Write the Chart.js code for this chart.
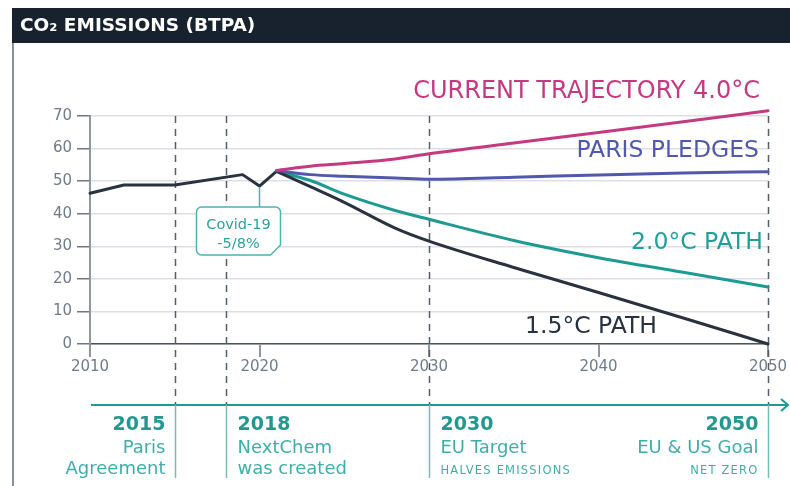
<!DOCTYPE html>
<html>
<head>
<meta charset="utf-8">
<script src="https://cdn.jsdelivr.net/npm/chart.js@4.4.1/dist/chart.umd.min.js"></script>
<style>
  html, body { margin: 0; padding: 0; background: #fff; }
  #wrap { width: 790px; height: 486px; }
</style>
</head>
<body>
<div id="wrap"><canvas id="co2Chart" width="790" height="486"></canvas></div>
<script>
// emissions, billion tonnes per annum
var pastYears = [2010, 2012, 2015, 2019, 2020, 2021];
var pastValues = [46.3, 48.8, 48.8, 52, 48.5, 53];

var pathYears = [2021, 2023, 2025, 2028, 2030, 2035, 2040, 2045, 2050];
var current40 = [53.3, 54.6, 55.4, 56.8, 58.4, 61.7, 64.9, 68.2, 71.6];
var parisPledges = [53.3, 52, 51.5, 51, 50.6, 51.2, 51.9, 52.5, 52.9];
var path20 = [53, 50.2, 46, 41, 38.3, 31.8, 26.5, 22, 17.5];
var path15 = [53, 48.3, 43.5, 35.6, 31.6, 23.5, 15.8, 8, 0];

var yTicks = [0, 10, 20, 30, 40, 50, 60, 70];
var xTicks = [2010, 2020, 2030, 2040, 2050];

var milestones = [
  { year: 2015, title: "2015", lines: ["Paris", "Agreement"], note: "", align: "right" },
  { year: 2018, title: "2018", lines: ["NextChem", "was created"], note: "", align: "left" },
  { year: 2030, title: "2030", lines: ["EU Target"], note: "HALVES EMISSIONS", align: "left" },
  { year: 2050, title: "2050", lines: ["EU & US Goal"], note: "NET ZERO", align: "right" }
];

var MAGENTA = "#c4397f";
var BLUE = "#5259ad";
var TEAL = "#1d9a92";
var DARK = "#29323e";
var FONT = "'DejaVu Sans', 'Liberation Sans', sans-serif";

function pts(xs, ys) {
  return xs.map(function (x, i) { return { x: x, y: ys[i] }; });
}

var decor = {
  id: "decor",
  beforeDraw: function (chart) {
    var c = chart.ctx;
    c.save();
    c.fillStyle = "#fff";
    c.fillRect(0, 0, chart.width, chart.height);
    // header bar
    c.fillStyle = "#17222e";
    c.fillRect(12, 8, chart.width - 12, 35);
    c.fillStyle = "#fff";
    c.font = "bold 18.5px " + FONT;
    c.textBaseline = "middle";
    c.textAlign = "left";
    c.fillText("CO₂ EMISSIONS (BTPA)", 20, 26);
    // frame line
    c.strokeStyle = "#8a9299";
    c.lineWidth = 2;
    c.beginPath();
    c.moveTo(13, 43);
    c.lineTo(13, chart.height);
    c.stroke();
    c.restore();
  },
  beforeDatasetsDraw: function (chart) {
    var c = chart.ctx, x = chart.scales.x, a = chart.chartArea;
    c.save();
    c.strokeStyle = "#555e68";
    c.lineWidth = 1.5;
    c.setLineDash([7, 6]);
    milestones.forEach(function (m) {
      var px = Math.round(x.getPixelForValue(m.year)) + 0.5;
      c.beginPath();
      c.moveTo(px, a.top);
      c.lineTo(px, 404);
      c.stroke();
    });
    c.restore();
  },
  afterDraw: function (chart) {
    var c = chart.ctx, x = chart.scales.x, y = chart.scales.y;
    c.save();
    // timeline arrow
    c.strokeStyle = TEAL;
    c.lineWidth = 2;
    c.beginPath();
    c.moveTo(91, 405);
    c.lineTo(788, 405);
    c.moveTo(781, 399);
    c.lineTo(788, 405);
    c.lineTo(781, 411);
    c.stroke();

    milestones.forEach(function (m) {
      var px = Math.round(x.getPixelForValue(m.year)) + 0.5;
      c.strokeStyle = "#7bbab6";
      c.lineWidth = 1.5;
      c.beginPath();
      c.moveTo(px, 405);
      c.lineTo(px, 478);
      c.stroke();

      var tx = m.align === "right" ? px - 10 : px + 11;
      c.textAlign = m.align;
      c.textBaseline = "middle";
      c.fillStyle = "#24988f";
      c.font = "bold 19px " + FONT;
      c.fillText(m.title, tx, 425);
      c.fillStyle = "#3eaeaa";
      c.font = "18px " + FONT;
      m.lines.forEach(function (t, i) {
        c.fillText(t, tx, 448 + i * 21);
      });
      if (m.note) {
        c.font = "11.5px " + FONT;
        c.letterSpacing = "1.2px";
        c.fillText(m.note, tx, 471);
        c.letterSpacing = "0px";
      }
    });

    // series labels
    var right = chart.chartArea.right;
    c.textBaseline = "middle";
    c.textAlign = "right";
    c.font = "24px " + FONT;
    c.fillStyle = MAGENTA;
    c.fillText("CURRENT TRAJECTORY 4.0°C", right - 8, 92);
    c.font = "23.5px " + FONT;
    c.fillStyle = BLUE;
    c.fillText("PARIS PLEDGES", right - 9, 151);
    c.fillStyle = "#21a09a";
    c.fillText("2.0°C PATH", right - 5, 243);
    c.fillStyle = DARK;
    c.fillText("1.5°C PATH", right - 111, 327);

    // covid callout
    var cx = x.getPixelForValue(2020), cy = y.getPixelForValue(48.5);
    var L = cx - 63, R = cx + 21, T = 207, B = 255, r = 5, cut = 10;
    c.strokeStyle = "#4fb3ad";
    c.lineWidth = 1.5;
    c.beginPath();
    c.moveTo(cx, cy + 2);
    c.lineTo(cx, T);
    c.stroke();
    c.fillStyle = "#fff";
    c.beginPath();
    c.moveTo(L + r, T);
    c.lineTo(R - r, T);
    c.arcTo(R, T, R, T + r, r);
    c.lineTo(R, B - cut);
    c.lineTo(R - cut, B);
    c.lineTo(L + r, B);
    c.arcTo(L, B, L, B - r, r);
    c.lineTo(L, T + r);
    c.arcTo(L, T, L + r, T, r);
    c.closePath();
    c.fill();
    c.stroke();
    c.fillStyle = "#2aa39f";
    c.font = "14.5px " + FONT;
    c.textAlign = "center";
    c.fillText("Covid-19", (L + R) / 2, 225);
    c.fillText("-5/8%", (L + R) / 2, 244);
    c.restore();
  }
};

var lineStyle = {
  borderWidth: 3,
  pointRadius: 0,
  cubicInterpolationMode: "monotone",
  borderCapStyle: "round",
  borderJoinStyle: "round",
  clip: false
};

new Chart(document.getElementById("co2Chart").getContext("2d"), {
  type: "line",
  data: {
    datasets: [
      Object.assign({ label: "Current trajectory 4.0°C", data: pts(pathYears, current40), borderColor: MAGENTA }, lineStyle),
      Object.assign({ label: "Paris pledges", data: pts(pathYears, parisPledges), borderColor: BLUE }, lineStyle),
      Object.assign({ label: "1.5°C path", data: pts(pathYears, path15), borderColor: DARK }, lineStyle),
      Object.assign({ label: "2.0°C path", data: pts(pathYears, path20), borderColor: TEAL }, lineStyle),
      Object.assign({ label: "Historic", data: pts(pastYears, pastValues), borderColor: DARK }, lineStyle, { cubicInterpolationMode: "default", tension: 0 })
    ]
  },
  options: {
    responsive: false,
    animation: false,
    layout: { padding: { top: 116, right: 22, left: 0, bottom: 0 } },
    plugins: { legend: { display: false }, tooltip: { enabled: false } },
    scales: {
      x: {
        type: "linear",
        min: 2010,
        max: 2050,
        afterBuildTicks: function (s) { s.ticks = xTicks.map(function (v) { return { value: v }; }); },
        afterFit: function (s) { s.height = 142; },
        ticks: { color: "#6f7b8a", font: { family: FONT, size: 15 }, padding: 1, callback: function (v) { return String(v); } },
        grid: { drawOnChartArea: false, drawTicks: true, tickLength: 13, color: "#8f989f", lineWidth: 2 },
        border: { display: true, color: "#4a535d", width: 1.5 }
      },
      y: {
        min: 0,
        max: 70,
        afterBuildTicks: function (s) { s.ticks = yTicks.map(function (v) { return { value: v }; }); },
        afterFit: function (s) { s.width = 90; },
        ticks: { color: "#6f7b8a", font: { family: FONT, size: 15 }, padding: 5 },
        grid: { color: "#dcdfe3", lineWidth: 1.5, tickLength: 13, tickColor: "#6e7780" },
        border: { display: true, color: "#8f989f", width: 2 }
      }
    }
  },
  plugins: [decor]
});
</script>
</body>
</html>
